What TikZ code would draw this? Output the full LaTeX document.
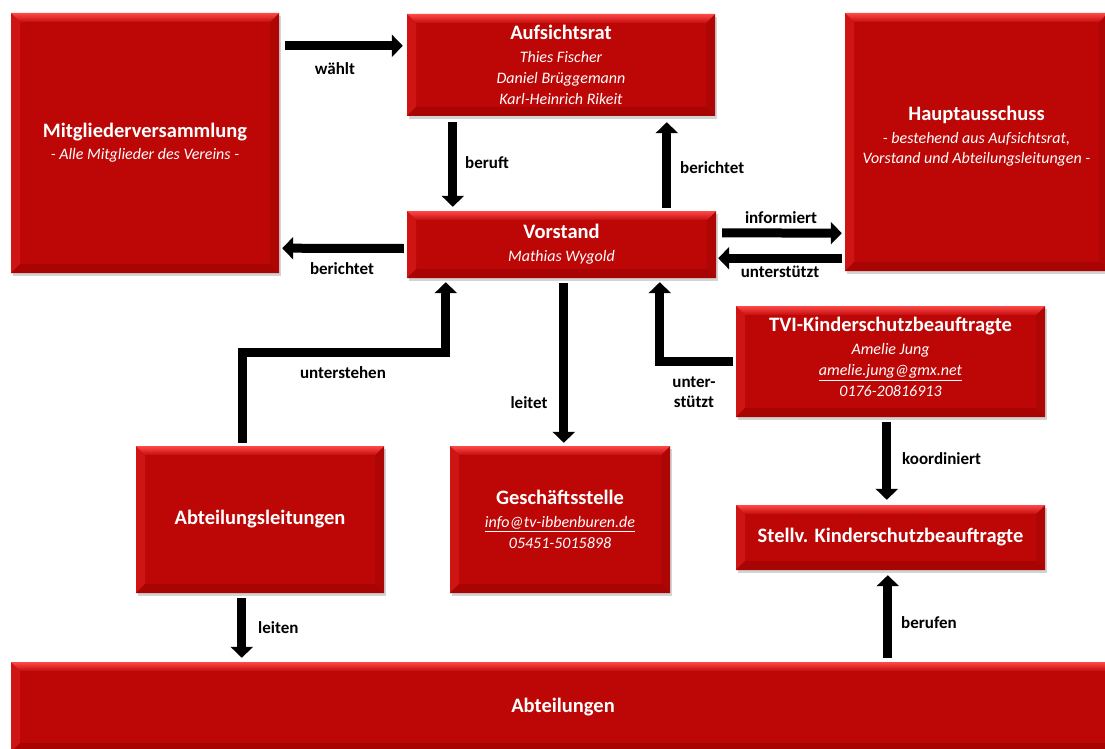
\documentclass[tikz,border=0pt]{standalone}
\usepackage{fontspec}
\setmainfont{Carlito}
\usetikzlibrary{arrows.meta,calc,shadows}
\definecolor{boxred}{HTML}{BD0707}
\definecolor{bevtop}{HTML}{FF4848}
\definecolor{bevleft}{HTML}{CF1414}
\definecolor{bevright}{HTML}{AE0505}
\definecolor{bevbot}{HTML}{A80404}
\tikzset{
  x=1pt, y=-1pt,
  box/.style={draw=none, fill=boxred, inner sep=0pt, text=white, align=center,
    font=\fontsize{16}{21}\selectfont,
    drop shadow={opacity=0.35, shadow xshift=2pt, shadow yshift=-3pt},
    path picture={
      \fill[bevleft] (path picture bounding box.north west) -- ([shift={(9pt,-9pt)}]path picture bounding box.north west) -- ([shift={(9pt,9pt)}]path picture bounding box.south west) -- (path picture bounding box.south west) -- cycle;
      \fill[bevright] (path picture bounding box.north east) -- ([shift={(-9pt,-9pt)}]path picture bounding box.north east) -- ([shift={(-9pt,9pt)}]path picture bounding box.south east) -- (path picture bounding box.south east) -- cycle;
      \fill[bevbot] (path picture bounding box.south west) -- ([shift={(9pt,9pt)}]path picture bounding box.south west) -- ([shift={(-9pt,9pt)}]path picture bounding box.south east) -- (path picture bounding box.south east) -- cycle;
      \shade[top color=bevtop, bottom color=boxred!90!bevtop] (path picture bounding box.north west) -- (path picture bounding box.north east) -- ([shift={(-9pt,-9pt)}]path picture bounding box.north east) -- ([shift={(9pt,-9pt)}]path picture bounding box.north west) -- cycle;
    }},
  arr/.style={line width=9pt, black, line join=miter, -{Triangle[width=22pt,length=11pt]}},
  lbl/.style={font=\fontsize{17}{20}\selectfont\bfseries, text=black, align=center, inner sep=0pt}
}
\newcommand\ttl[1]{{\fontsize{20.5}{21}\selectfont\bfseries #1}}
\begin{document}
\begin{tikzpicture}
\useasboundingbox (0,0) rectangle (1105,749);
% boxes
\node[box, minimum width=268, minimum height=260] (mv) at (145,143)
  {\ttl{Mitgliederversammlung}\\[1pt] \itshape - Alle Mitglieder des Vereins -};
\node[box, minimum width=308, minimum height=102] (ar) at (561,65)
  {\ttl{Aufsichtsrat}\\[2pt] \itshape Thies Fischer\\ \itshape Daniel Brüggemann\\ \itshape Karl-Heinrich Rikeit};
\node[box, minimum width=263, minimum height=258] (ha) at (976.5,142)
  {\ttl{Hauptausschuss}\\[2pt] \itshape - bestehend aus Aufsichtsrat,\\[-1pt] \itshape Vorstand und Abteilungsleitungen -\\[-7pt]\mbox{}};
\node[box, minimum width=309, minimum height=67] (vs) at (561.5,244.5)
  {\ttl{Vorstand}\\[2pt] \itshape Mathias Wygold};
\node[box, minimum width=309, minimum height=111] (tvi) at (890.5,361.5)
  {\ttl{TVI-Kinderschutzbeauftragte}\\[2pt] \itshape Amelie Jung\\ \itshape\underline{amelie.jung@gmx.net}\\ \itshape 0176-20816913\\[-12pt]\mbox{}};
\node[box, minimum width=248, minimum height=147] (al) at (260,519.5)
  {\ttl{Abteilungsleitungen}};
\node[box, minimum width=220, minimum height=147] (gs) at (560,519.5)
  {\ttl{Geschäftsstelle}\\[2pt] \itshape\underline{info@tv-ibbenburen.de}\\ \itshape 05451-5015898};
\node[box, minimum width=309, minimum height=65] (st) at (890.5,537.5)
  {\ttl{Stellv. Kinderschutzbeauftragte}};
\node[box, minimum width=1104, minimum height=90] (ab) at (563,707)
  {\ttl{Abteilungen}};
% arrows
\draw[arr] ($(mv.north east)+(6,33)$) -- ($(ar.north west)+(-4,32)$);
\draw[arr] ($(vs.west)+(-3,4)$) -- ($(mv.south east)+(3,-25)$);
\draw[arr] ($(ar.south west)+(46,6)$) -- ($(vs.north west)+(46,-4)$);
\draw[arr] ($(vs.north west)+(260,-3)$) -- ($(ar.south west)+(260,6)$);
\draw[arr] ($(vs.north east)+(6,22)$) -- ($(ha.south west)+(-3,-38)$);
\draw[arr] ($(ha.south west)+(-3,-13)$) -- ($(vs.south east)+(2,-20)$);
\draw[arr] ($(tvi.west)+(-3,0)$) -| ($(vs.south west)+(253,4)$);
\draw[arr] ($(al.north west)+(107,-3)$) -- ++(0,-90) -| ($(vs.south west)+(39,4)$);
\draw[arr] ($(vs.south west)+(157,5)$) -- ($(gs.north west)+(114,-3)$);
\draw[arr] ($(tvi.south west)+(151,5)$) -- ($(st.north west)+(151,-5)$);
\draw[arr] ($(ab.north west)+(877,-4)$) -- ($(st.south west)+(152,5)$);
\draw[arr] ($(al.south west)+(106,5)$) -- ($(ab.north west)+(231,-4)$);
% labels
\node[lbl] (l1) at (335,69) {wählt};
\node[lbl] (l2) at (342,269) {berichtet};
\node[lbl, anchor=west] (l3) at (465,163) {beruft};
\node[lbl, anchor=west] (l4) at (680,168) {berichtet};
\node[lbl] (l5) at (781,218) {informiert};
\node[lbl] (l6) at (780,272) {unterstützt};
\node[lbl] (l7) at (343,373) {unterstehen};
\node[lbl] (l8) at (529,403) {leitet};
\node[lbl] (l9) at (694,392) {unter-\\stützt};
\node[lbl, anchor=west] (l10) at (902,459) {koordiniert};
\node[lbl, anchor=west] (l11) at (901,623) {berufen};
\node[lbl, anchor=west] (l12) at (258,628) {leiten};
\end{tikzpicture}
\end{document}
